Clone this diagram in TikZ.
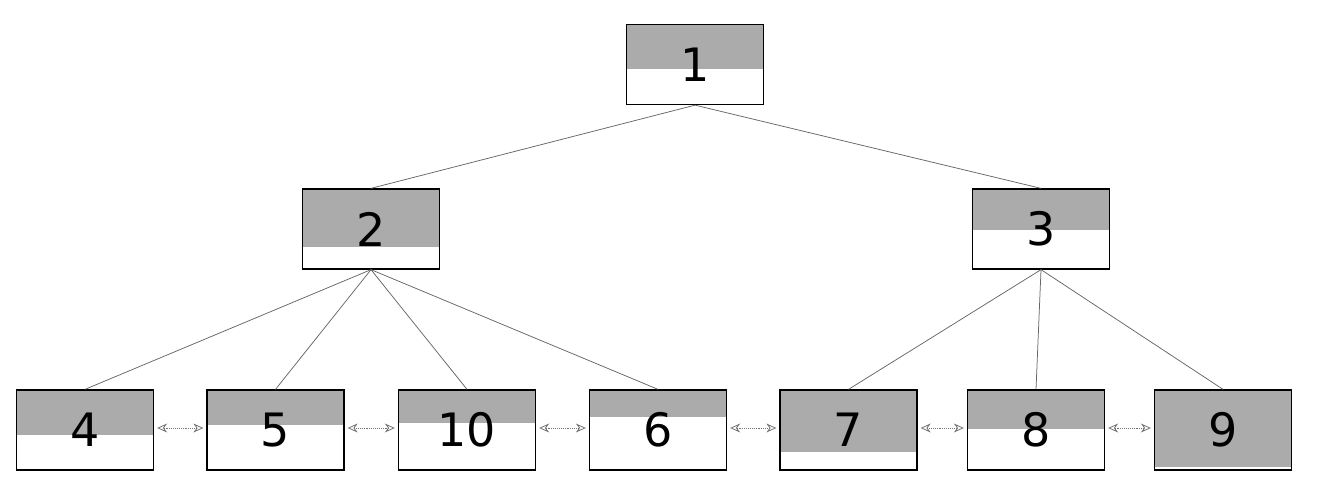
\documentclass[tikz,border=0pt]{standalone}
\usepackage{fontspec}
\setmainfont{DejaVu Sans}
\usetikzlibrary{arrows.meta}
\begin{document}
\begin{tikzpicture}[x=1pt,y=-1pt,
  shade/.style={fill=black!33},
  keybox/.style={draw, line width=1.3pt, minimum width=137pt, minimum height=80pt,
    inner sep=0pt, font=\fontsize{46}{46}\selectfont,
    path picture={\fill[shade] (path picture bounding box.north west)
      rectangle ([yshift=-#1]path picture bounding box.north east);}},
  edge/.style={draw=black!60, line width=0.75pt},
  link/.style={draw=black!55, line width=0.9pt, densely dotted,
    {Stealth[open,length=10pt,width=9pt,line width=0.8pt,sep=0pt]}-{Stealth[open,length=10pt,width=9pt,line width=0.8pt]},
    shorten <=3pt, shorten >=3pt}]
\useasboundingbox (0,0) rectangle (1332,492);
% root and inner level
\node[keybox=45pt] (b1) at (695,64.5) {1};
\node[keybox=58pt] (b2) at (371,229) {2};
\node[keybox=41pt] (b3) at (1041,229) {3};
% leaf level
\node[keybox=45pt] (b4)  at (85,430)    {4};
\node[keybox=35pt] (b5)  at (275.5,430) {5};
\node[keybox=33pt] (b10) at (467,430)   {10};
\node[keybox=27pt] (b6)  at (658,430)   {6};
\node[keybox=62pt] (b7)  at (848.5,430) {7};
\node[keybox=39pt] (b8)  at (1036,430)  {8};
\node[keybox=77pt] (b9)  at (1223,430)  {9};
% tree edges
\draw[edge] (b1.south) -- (b2.north);
\draw[edge] (b1.south) -- (b3.north);
\draw[edge] (b2.south) -- (b4.north);
\draw[edge] (b2.south) -- (b5.north);
\draw[edge] (b2.south) -- (b10.north);
\draw[edge] (b2.south) -- (b6.north);
\draw[edge] (b3.south) -- (b7.north);
\draw[edge] (b3.south) -- (b8.north);
\draw[edge] (b3.south) -- (b9.north);
% sibling links
\foreach \a/\b in {b4/b5, b5/b10, b10/b6, b6/b7, b7/b8, b8/b9}
  \draw[link] ([yshift=2pt]\a.east) -- ([yshift=2pt]\b.west);
\end{tikzpicture}
\end{document}
